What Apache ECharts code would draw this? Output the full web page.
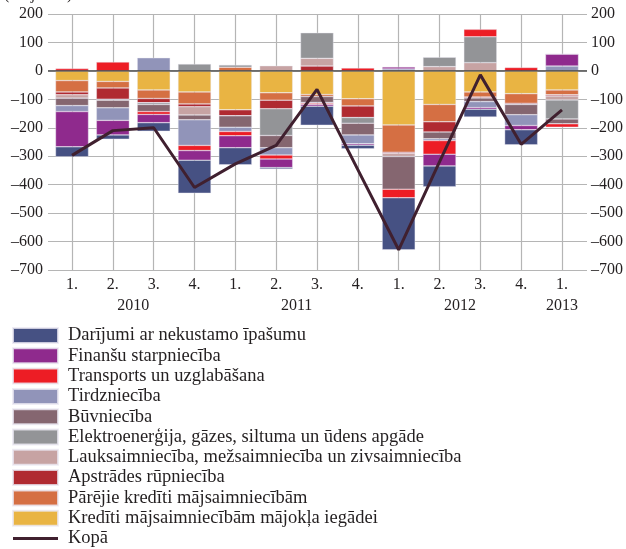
<!DOCTYPE html>
<html>
<head>
<meta charset="utf-8">
<script src="https://cdn.jsdelivr.net/npm/echarts@6/dist/echarts.min.js"></script>
<style>
html, body { margin: 0; padding: 0; background: #fff; }
#chart { width: 626px; height: 549px; }
</style>
</head>
<body>
<div id="chart"></div>
<script>
// ceturkšņi un gadi
var quarters = ['1.', '2.', '3.', '4.', '1.', '2.', '3.', '4.', '1.', '2.', '3.', '4.', '1.'];
var quarterYears = ['2010', '2010', '2010', '2010', '2011', '2011', '2011', '2011', '2012', '2012', '2012', '2012', '2013'];
var yTicks = [-700, -600, -500, -400, -300, -200, -100, 0, 100, 200];

// nozares (milj. latu), sakārtotas no nulles uz āru
var kreditiMajoklim = [-34, -37, -67, -74, -137, -77, -83, -98, -190, -118, -74, -80, -67];
var parejieKrediti = [-40, -23, -30, -42, 13, -26, -7, -25, -96, -61, -18, -34, -17];
var apstrades = [-10, -40, -15, -10, -21, -30, 17, -41, -4, -36, -3, -4, -4];
var lauksaimnieciba = [-12, 0, 0, -29, 0, 18, 27, 0, -11, 15, 29, 0, -14];
var elektroenergija = [0, -3, -6, 24, 8, -94, 90, -20, 0, 33, 91, 0, -67];
var buvnieciba = [-26, -27, -25, -17, -40, -43, -21, -41, -115, -24, -13, -36, -17];
var tirdznieciba = [-21, -44, 46, -90, -15, -26, -3, -31, 7, -6, -21, -38, 17];
var transports = [8, 31, -10, -18, -15, -14, -4, 10, -30, -48, 26, 12, -12];
var finansu = [-124, -51, -29, -34, -42, -30, -6, -5, 7, -41, -6, -15, 42];
var darijumi = [-35, -15, -30, -116, -60, -5, -67, -13, -183, -73, -27, -53, 0];
var kopa = [-297, -210, -200, -410, -327, -262, -65, -347, -629, -320, -14, -258, -137];

var font = 'Liberation Serif';
var textColor = '#231f20';
var gridColor = '#b5b5b5';

var barSeries = [
    { name: 'Kredīti mājsaimniecībām mājokļa iegādei', data: kreditiMajoklim, color: '#e9b443' },
    { name: 'Pārējie kredīti mājsaimniecībām', data: parejieKrediti, color: '#d56f43' },
    { name: 'Apstrādes rūpniecība', data: apstrades, color: '#b02a31' },
    { name: 'Lauksaimniecība, mežsaimniecība un zivsaimniecība', data: lauksaimnieciba, color: '#c7a3a3' },
    { name: 'Elektroenerģija, gāzes, siltuma un ūdens apgāde', data: elektroenergija, color: '#939497' },
    { name: 'Būvniecība', data: buvnieciba, color: '#856670' },
    { name: 'Tirdzniecība', data: tirdznieciba, color: '#9194b9' },
    { name: 'Transports un uzglabāšana', data: transports, color: '#ed1d25' },
    { name: 'Finanšu starpniecība', data: finansu, color: '#8f2a8d' },
    { name: 'Darījumi ar nekustamo īpašumu', data: darijumi, color: '#465183' }
];

var chart = echarts.init(document.getElementById('chart'));

var series = barSeries.map(function (s) {
    return {
        name: s.name,
        type: 'bar',
        stack: 'total',
        xAxisIndex: 1,
        yAxisIndex: 2,
        barWidth: 33,
        data: s.data,
        itemStyle: { color: s.color, borderColor: 'rgba(235,233,242,0.8)', borderWidth: 0.5 },
        animation: false
    };
});
series.push({
    name: 'Kopā',
    type: 'line',
    xAxisIndex: 1,
    yAxisIndex: 2,
    data: kopa,
    symbol: 'none',
    z: 10,
    lineStyle: { color: '#40202f', width: 3 },
    itemStyle: { color: '#40202f' },
    animation: false
});
// nulles līnija
series.push({
    name: 'zero',
    type: 'line',
    xAxisIndex: 0,
    yAxisIndex: 0,
    data: [[0, 0], [1, 0]],
    symbol: 'none',
    silent: true,
    z: 5,
    lineStyle: { color: '#3a3a3a', width: 1.3 },
    animation: false
});

var legendData = barSeries.map(function (s) {
    return { name: s.name, icon: 'rect' };
}).reverse();
legendData.push({ name: 'Kopā', icon: 'path://M0,0H45V3H0Z' });

function tickLabel(v) {
    return v < 0 ? '\u2013' + (-v) : String(v);
}

var option = {
    backgroundColor: '#fff',
    animation: false,
    grid: [
        { left: 48, right: 39, top: 14, bottom: 279 },
        { left: 51.6, right: 43.6, top: 14, bottom: 279 }
    ],
    xAxis: [{
        gridIndex: 0,
        type: 'value',
        min: 0,
        max: 1,
        show: false
    }, {
        gridIndex: 1,
        type: 'category',
        data: quarters,
        axisLine: { show: false },
        axisTick: { show: false },
        axisLabel: { interval: 0, margin: 7, color: textColor, fontFamily: font, fontSize: 16 },
        splitLine: { show: true, interval: 0, alignWithLabel: true, lineStyle: { color: gridColor, width: 1.2 } }
    }],
    yAxis: [{
        gridIndex: 0,
        type: 'value',
        min: yTicks[0],
        max: yTicks[yTicks.length - 1],
        interval: 100,
        axisLine: { show: false },
        axisTick: { show: false },
        axisLabel: { margin: 5, color: textColor, fontFamily: font, fontSize: 16, formatter: tickLabel },
        splitLine: { lineStyle: { color: gridColor, width: 1.2 } }
    }, {
        gridIndex: 0,
        type: 'value',
        position: 'right',
        min: yTicks[0],
        max: yTicks[yTicks.length - 1],
        interval: 100,
        axisLine: { show: false },
        axisTick: { show: false },
        axisLabel: { margin: 4, color: textColor, fontFamily: font, fontSize: 16, formatter: tickLabel },
        splitLine: { show: false }
    }, {
        gridIndex: 1,
        type: 'value',
        min: yTicks[0],
        max: yTicks[yTicks.length - 1],
        interval: 100,
        show: false,
        splitLine: { show: false }
    }],
    legend: {
        data: legendData,
        orient: 'vertical',
        left: 12,
        top: 326,
        height: 240,
        padding: 0,
        itemWidth: 45,
        itemHeight: 15,
        itemGap: 1.3,
        selectedMode: false,
        textStyle: { color: textColor, fontFamily: font, fontSize: 18.5, padding: [0, 0, 0, 5] }
    },
    series: series
};
chart.setOption(option);

// gadu nosaukumi zem ceturkšņiem
var yearGraphics = [];
var seenYears = [];
quarterYears.forEach(function (y) {
    if (seenYears.indexOf(y) < 0) seenYears.push(y);
});
seenYears.forEach(function (y) {
    var first = quarterYears.indexOf(y);
    var last = quarterYears.lastIndexOf(y);
    var x1 = chart.convertToPixel({ xAxisIndex: 1 }, first);
    var x2 = chart.convertToPixel({ xAxisIndex: 1 }, last);
    yearGraphics.push({
        type: 'text',
        x: (x1 + x2) / 2,
        y: 306,
        style: { text: y, fill: textColor, font: '16px "' + font + '"', align: 'center', verticalAlign: 'middle' }
    });
});
yearGraphics.push({
    type: 'text',
    x: 4,
    y: -13,
    style: { text: '(milj. latu)', fill: textColor, font: '16px "' + font + '"' }
});
chart.setOption({ graphic: yearGraphics });
</script>
</body>
</html>
